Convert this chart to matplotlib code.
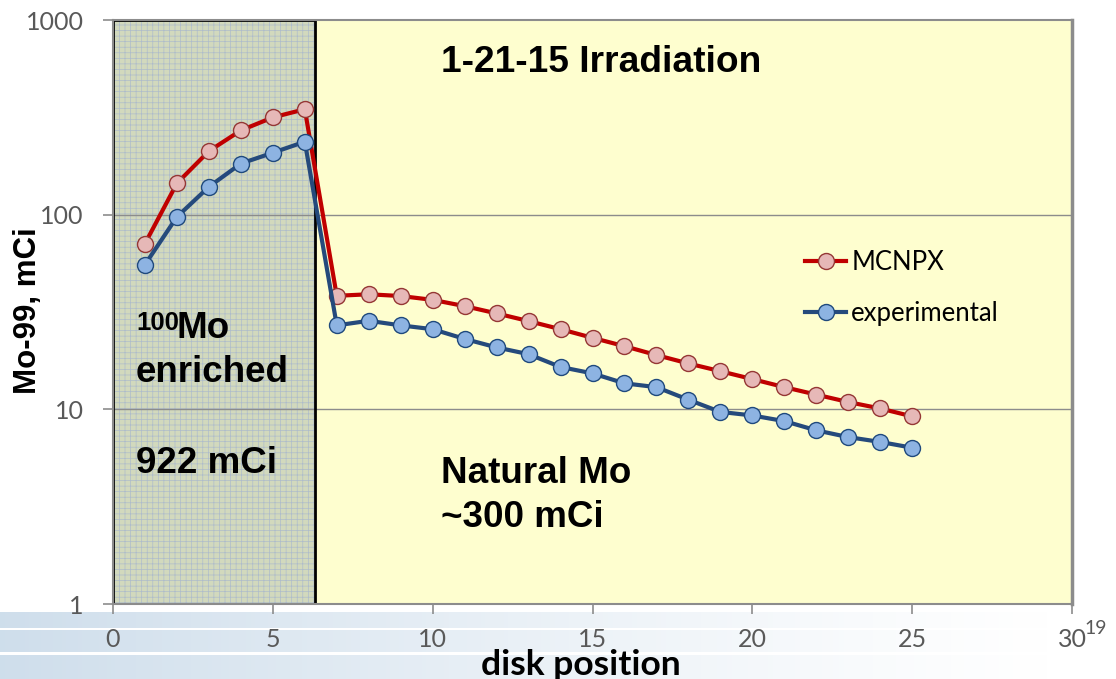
import numpy as np
import matplotlib
matplotlib.use("Agg")
import matplotlib.pyplot as plt
from matplotlib.patches import Rectangle

# ---- data ----
disk_position = list(range(1, 26))
mcnpx = [71, 145, 212, 271, 316, 348, 38.3, 39.0, 38.2, 36.5, 33.9, 31.1, 28.4,
         25.8, 23.3, 21.1, 19.0, 17.2, 15.7, 14.3, 13.0, 11.9, 10.9, 10.1, 9.2]
experimental = [55.4, 97.4, 139, 183, 208, 237, 27.0, 28.5, 27.0, 25.8, 23.0, 20.8,
                19.2, 16.5, 15.3, 13.6, 13.0, 11.2, 9.7, 9.3, 8.7, 7.8, 7.2, 6.8, 6.35]
series_labels = ["MCNPX", "experimental"]
x_ticks = [0, 5, 10, 15, 20, 25, 30]
y_ticks = [1, 10, 100, 1000]
y_tick_labels = ["1", "10", "100", "1000"]
enriched_edge = 6.32

W, H = 1116, 679
fig = plt.figure(figsize=(W / 100, H / 100), dpi=100)

# ---- bottom decorative banner (slide background) ----
bax = fig.add_axes([0, 0, 1, 68 / H], zorder=-5)
bax.set_axis_off()
rows = 68
img = np.ones((rows, 400, 4))
base = np.array([0.78, 0.85, 0.91])
xs = np.linspace(0, 1, 400)
alpha = np.clip(1.0 - xs / 0.95, 0, 1) ** 1.2 * 0.85
for r in range(rows):
    ypix = 611 + r
    inside = (612 <= ypix <= 627) or (630 <= ypix <= 651) or (655 <= ypix <= 679)
    img[r, :, :3] = base
    img[r, :, 3] = alpha if inside else 0.0
bax.imshow(img, aspect="auto", extent=[0, 1, 0, 1], origin="upper")
bax.set_xlim(0, 1)
bax.set_ylim(0, 1)

# ---- main axes ----
ax = fig.add_axes([113 / W, 75 / H, 959 / W, 584 / H])
ax.set_facecolor("#fefecf")
ax.set_yscale("log")
ax.set_xlim(0, 30)
ax.set_ylim(1, 1000)

plt.rcParams["hatch.linewidth"] = 0.5
shade = Rectangle((0, 1), enriched_edge, 999, facecolor="#d2d9bd",
                  edgecolor="#aebccb", hatch="+++", linewidth=0, zorder=1)
ax.add_patch(shade)
border = Rectangle((0, 1), enriched_edge, 999, fill=False, edgecolor="black",
                   linewidth=2.0, zorder=2)
ax.add_patch(border)

for yv in [10, 100]:
    ax.axhline(yv, color="#8c8c8c", linewidth=1.0, zorder=1.5)

l1, = ax.plot(disk_position, mcnpx, color="#c00000", linewidth=3, marker="o",
              markersize=11.5, markerfacecolor="#e6b8b7", markeredgecolor="#953735",
              markeredgewidth=1.0, zorder=4, label=series_labels[0])
l2, = ax.plot(disk_position, experimental, color="#254a7c", linewidth=3, marker="o",
              markersize=11.5, markerfacecolor="#8db3e2", markeredgecolor="#1f497d",
              markeredgewidth=1.0, zorder=4, label=series_labels[1])

for s in ax.spines.values():
    s.set_color("#8c8c8c")
    s.set_linewidth(1.5)
ax.spines["right"].set_linewidth(2.5)

ax.set_xticks(x_ticks)
ax.set_xticklabels([str(v) for v in x_ticks])
ax.set_yticks(y_ticks)
ax.set_yticklabels(y_tick_labels)
ax.minorticks_off()
ax.yaxis.set_minor_locator(matplotlib.ticker.NullLocator())
ax.tick_params(axis="y", length=7, width=1.2, color="#8c8c8c", pad=14,
               labelsize=18, labelcolor="#595959")
ax.tick_params(axis="x", length=7, width=1.2, color="#8c8c8c", pad=10,
               labelsize=18, labelcolor="#595959")
for lab in ax.get_xticklabels() + ax.get_yticklabels():
    lab.set_family("Lato")

bold = dict(family="Liberation Sans", fontweight="bold", color="black", zorder=5)
ax.text(10.26, 540, "1-21-15 Irradiation", fontsize=26.7, va="baseline", ha="left", **bold)
ax.text(0.72, 25.5, "100", fontsize=18.5, va="baseline", ha="left", **bold)
ax.text(2.0, 23.2, "Mo", fontsize=26.5, va="baseline", ha="left", **bold)
ax.text(0.72, 13.8, "enriched", fontsize=26.5, va="baseline", ha="left", **bold)
ax.text(0.72, 4.71, "922 mCi", fontsize=26.5, va="baseline", ha="left", **bold)
ax.text(10.26, 4.18, "Natural Mo", fontsize=26.5, va="baseline", ha="left", **bold)
ax.text(10.26, 2.49, "~300 mCi", fontsize=26.5, va="baseline", ha="left", **bold)

leg = ax.legend(handles=[l1, l2], loc="upper left",
                bbox_to_anchor=((805 - 113) / 959, (604 - 250) / 584),
                frameon=False, borderpad=0, borderaxespad=0, handlelength=1.6,
                handletextpad=0.2, labelspacing=1.0,
                prop={"family": "Lato", "size": 18.5})

fig.text(28 / W, 1 - 311 / H, "Mo-99, mCi", rotation=90, ha="center", va="center",
         fontsize=22.5, family="Liberation Sans", fontweight="bold")
fig.text(581 / W, 1 - 665 / H, "disk position", ha="center", va="center",
         fontsize=25.5, family="Lato", fontweight="bold")
fig.text(1096 / W, 1 - 629 / H, "19", ha="center", va="center", fontsize=14,
         family="Lato", color="#595959")

fig.savefig("out.png", dpi=100)
